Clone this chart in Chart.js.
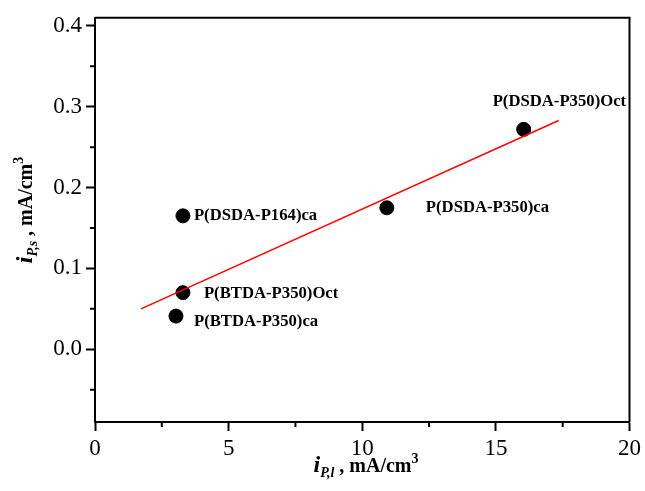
<!DOCTYPE html>
<html>
<head>
<meta charset="utf-8">
<script src="https://cdn.jsdelivr.net/npm/chart.js@4.4.0/dist/chart.umd.min.js"></script>
<style>
  html, body { margin: 0; padding: 0; background: #fff; }
  #wrap { width: 645px; height: 491px; }
</style>
</head>
<body>
<div id="wrap"><canvas id="myChart" width="645" height="491"></canvas></div>
<script>
// data
var names = ['P(BTDA-P350)ca', 'P(BTDA-P350)Oct', 'P(DSDA-P164)ca', 'P(DSDA-P350)ca', 'P(DSDA-P350)Oct'];
var ipl = [3.03, 3.29, 3.29, 10.92, 16.04];
var ips = [0.041, 0.070, 0.165, 0.175, 0.272];
var fitX = [1.72, 17.35];
var fitY = [0.050, 0.283];
var xTicks = [0, 5, 10, 15, 20];
var yTicks = [0.0, 0.1, 0.2, 0.3, 0.4];
var xMinor = [2.5, 7.5, 12.5, 17.5];
var yMinor = [-0.05, 0.05, 0.15, 0.25, 0.35];

// label placement relative to each point (pixels)
var labelOffsets = [[18, 6], [21, 1], [11, 0], [39, 0], [-31, -28]];

var SERIF = '"Liberation Serif", "Times New Roman", serif';

var points = [];
for (var i in ipl) {
	points.push({x: ipl[i], y: ips[i]});
}
var fit = [];
for (var j in fitX) {
	fit.push({x: fitX[j], y: fitY[j]});
}

// draws a title like i_{P,s} , mA/cm^3 centred on x, baseline y
function drawTitle(ctx, x, y, sub) {
	var parts = [
		{t: 'i', f: 'bold italic 24px ' + SERIF, dy: 0},
		{t: sub, f: 'bold italic 14px ' + SERIF, dy: 5},
		{t: ' , mA/cm', f: 'bold 20px ' + SERIF, dy: 0},
		{t: '3', f: 'bold 14px ' + SERIF, dy: -9}
	];
	var total = 0;
	parts.forEach(function(p){ ctx.font = p.f; total += ctx.measureText(p.t).width; });
	var cx = x - total / 2;
	ctx.textBaseline = 'alphabetic';
	ctx.textAlign = 'left';
	parts.forEach(function(p){
		ctx.font = p.f;
		ctx.fillText(p.t, cx, y + p.dy);
		cx += ctx.measureText(p.t).width;
	});
}

var extras = {
	id: 'extras',
	afterDraw: function(chart){
		var ctx = chart.ctx;
		var a = chart.chartArea;
		var xs = chart.scales.x, ys = chart.scales.y;
		ctx.save();
		ctx.strokeStyle = '#000';
		ctx.lineWidth = 2;
		// box top and right
		ctx.beginPath();
		ctx.moveTo(a.left, a.top);
		ctx.lineTo(a.right, a.top);
		ctx.lineTo(a.right, a.bottom);
		ctx.stroke();
		// minor ticks
		ctx.beginPath();
		xMinor.forEach(function(v){
			var px = xs.getPixelForValue(v);
			ctx.moveTo(px, a.bottom);
			ctx.lineTo(px, a.bottom + 5);
		});
		yMinor.forEach(function(v){
			var py = ys.getPixelForValue(v);
			ctx.moveTo(a.left, py);
			ctx.lineTo(a.left - 5, py);
		});
		ctx.stroke();

		// point labels
		ctx.fillStyle = '#000';
		ctx.font = 'bold 16.7px ' + SERIF;
		ctx.textAlign = 'left';
		ctx.textBaseline = 'middle';
		for (var k in names) {
			var px = xs.getPixelForValue(ipl[k]) + labelOffsets[k][0];
			var py = ys.getPixelForValue(ips[k]) + labelOffsets[k][1];
			ctx.fillText(names[k], px, py);
		}

		// axis titles
		drawTitle(ctx, 366, 472, 'P,l');
		ctx.save();
		ctx.translate(32, 210);
		ctx.rotate(-Math.PI / 2);
		drawTitle(ctx, 0, 0, 'P,s');
		ctx.restore();
		ctx.restore();
	}
};

var ctx = document.getElementById('myChart');

var scatter = new Chart(ctx, {
	type: 'scatter',
	data: {
		datasets: [
			{
				label: 'fit',
				data: fit,
				showLine: true,
				borderColor: '#ff0000',
				borderWidth: 1.5,
				pointRadius: 0,
				fill: false
			},
			{
				label: 'samples',
				data: points,
				backgroundColor: '#000',
				borderColor: '#000',
				pointRadius: 7,
				pointHoverRadius: 7
			}
		]
	},
	options: {
		responsive: false,
		animation: false,
		devicePixelRatio: 1,
		layout: { padding: { top: 16, right: 15, left: 0, bottom: 0 } },
		plugins: {
			legend: { display: false },
			tooltip: { enabled: false }
		},
		scales: {
			x: {
				type: 'linear',
				min: 0,
				max: 20,
				afterBuildTicks: function(s){ s.ticks = xTicks.map(function(v){ return {value: v}; }); },
				afterFit: function(s){ s.height = 69; },
				grid: { drawOnChartArea: false, drawTicks: true, tickLength: 9, tickWidth: 2, color: '#000' },
				border: { display: true, color: '#000', width: 2 },
				ticks: {
					color: '#000',
					padding: 4,
					maxRotation: 0,
					font: { family: SERIF, size: 23 },
					callback: function(v){ return String(v); }
				}
			},
			y: {
				type: 'linear',
				min: -0.09,
				max: 0.41,
				afterBuildTicks: function(s){ s.ticks = yTicks.map(function(v){ return {value: v}; }); },
				afterFit: function(s){ s.width = 95; },
				grid: { drawOnChartArea: false, drawTicks: true, tickLength: 9, tickWidth: 2, color: '#000' },
				border: { display: true, color: '#000', width: 2 },
				ticks: {
					color: '#000',
					padding: 4,
					font: { family: SERIF, size: 23 },
					callback: function(v){ return v.toFixed(1); }
				}
			}
		}
	},
	plugins: [extras]
});
</script>
</body>
</html>
